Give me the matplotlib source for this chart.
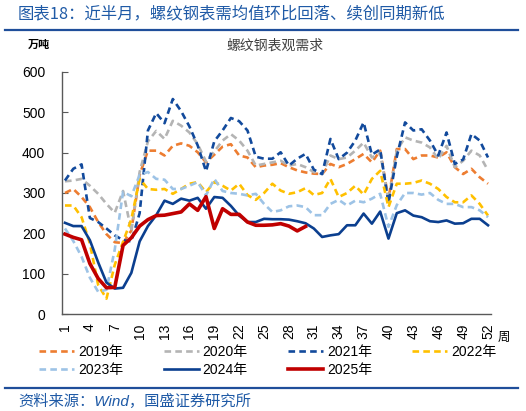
import matplotlib
matplotlib.use("Agg")
import matplotlib.pyplot as plt
from matplotlib.lines import Line2D

plt.rcParams['font.family'] = ['Liberation Sans', 'Noto Sans CJK SC']

# weekly apparent demand of rebar, 10k tonnes
weeks = list(range(1, 53))
y2019 = [300, 310, 290, 265, 228, 198, 178, 176, 207, 345, 405, 405, 393, 417, 423, 417, 401, 376, 395, 415,
         421, 393, 388, 364, 368, 370, 374, 364, 356, 351, 348, 347, 372, 364, 372, 384, 397, 376, 405, 285,
         409, 409, 384, 393, 393, 388, 401, 364, 347, 360, 339, 323]
y2020 = [329, 331, 335, 318, 298, 273, 251, 305, 205, 352, 428, 454, 434, 479, 467, 450, 421, 378, 403, 430,
         446, 430, 405, 368, 372, 376, 380, 368, 372, 364, 352, 347, 393, 384, 388, 405, 425, 388, 400, 280,
         405, 438, 430, 425, 413, 384, 417, 364, 380, 405, 393, 356]
y2021 = [331, 360, 371, 238, 228, 212, 195, 183, 180, 250, 455, 498, 473, 533, 503, 465, 418, 354, 428, 455,
         486, 478, 455, 390, 385, 385, 401, 368, 385, 397, 358, 347, 434, 384, 400, 430, 475, 395, 408, 275,
         390, 475, 455, 458, 430, 393, 450, 372, 383, 446, 430, 388]
y2022 = [269, 269, 240, 175, 72, 38, 122, 179, 235, 335, 310, 308, 310, 298, 310, 323, 327, 302, 327, 318,
         306, 323, 295, 283, 300, 323, 306, 298, 302, 312, 295, 300, 335, 290, 300, 318, 296, 335, 355, 265,
         323, 323, 325, 331, 323, 310, 290, 277, 277, 294, 273, 244]
y2023 = [212, 181, 142, 90, 55, 60, 160, 303, 292, 345, 352, 335, 333, 310, 310, 318, 327, 294, 335, 305,
         300, 298, 294, 298, 273, 253, 257, 267, 269, 265, 245, 245, 273, 283, 269, 281, 277, 286, 298, 216,
         270, 300, 300, 296, 300, 283, 273, 273, 265, 265, 257, 240]
y2024 = [226, 218, 218, 183, 128, 78, 63, 65, 102, 180, 218, 245, 281, 273, 286, 281, 288, 261, 290, 288,
         268, 244, 228, 228, 236, 235, 235, 234, 230, 225, 212, 191, 195, 198, 220, 220, 249, 224, 254, 187,
         250, 257, 244, 240, 230, 228, 232, 224, 225, 236, 236, 220]
y2025 = [198, 190, 184, 125, 88, 65, 66, 170, 189, 218, 234, 244, 245, 249, 253, 273, 257, 291, 212, 261,
         247, 247, 228, 220, 220, 221, 224, 218, 206, 217]
xticks = list(range(1, 53, 3))

W, H = 526, 411
fig = plt.figure(figsize=(W / 100, H / 100), dpi=100)
ax = fig.add_axes([62 / W, 1 - 314 / H, (491 - 62) / W, (314 - 72) / H])

dash = (2.5, 1.6)
series = [
    ('2019年', y2019, '#ED7D31', True, 1.9),
    ('2020年', y2020, '#B4B4B4', True, 1.9),
    ('2021年', y2021, '#124A9C', True, 1.9),
    ('2022年', y2022, '#FFC000', True, 1.9),
    ('2023年', y2023, '#9DC3E6', True, 1.9),
    ('2024年', y2024, '#0B3F8F', False, 1.9),
    ('2025年', y2025, '#C00000', False, 2.6),
]
handles = {}
for label, vals, color, dashed, lw in series:
    if dashed:
        ln, = ax.plot(weeks[:len(vals)], vals, color=color, lw=lw, dashes=dash, label=label)
    else:
        ln, = ax.plot(weeks[:len(vals)], vals, color=color, lw=lw, label=label)
    handles[label] = ln

ax.set_xlim(0.64, 52.36)
ax.set_ylim(0, 600)
ax.set_yticks(range(0, 601, 100))
ax.set_xticks(xticks)
ax.set_xticklabels([str(t) for t in xticks], rotation=90)
for s in ['top', 'right']:
    ax.spines[s].set_visible(False)
for s in ['left', 'bottom']:
    ax.spines[s].set_color('#595959')
    ax.spines[s].set_linewidth(1)
ax.tick_params(axis='y', direction='in', length=4, color='#595959', pad=12, labelsize=10)
ax.tick_params(axis='x', length=0, pad=7, labelsize=10)

fig.text(504 / W, 1 - 337 / H, '周', fontsize=9, family=['Noto Sans CJK SC'], ha='center', va='center')
fig.text(28 / W, 1 - 44 / H, '万吨', fontsize=8, fontweight='bold', family=['Noto Sans CJK SC'],
         ha='left', va='center')
fig.text(275 / W, 1 - 46 / H, '螺纹钢表观需求', fontsize=10, family=['Noto Sans CJK SC'],
         color='#404040', ha='center', va='center')

# header and footer
fig.text(18 / W, 1 - 14 / H, '图表18：近半月，螺纹钢表需均值环比回落、续创同期新低', fontsize=11.8,
         style='italic', color='#1F5AA6', family=['Noto Sans CJK SC'], ha='left', va='center')
fig.add_artist(Line2D([5 / W, 518 / W], [1 - 30 / H, 1 - 30 / H], color='#1F4E9A', lw=1.6))
fig.add_artist(Line2D([5 / W, 518 / W], [1 - 388 / H, 1 - 388 / H], color='#1F4E9A', lw=1.6))
fig.text(18 / W, 1 - 401 / H, '资料来源：Wind，国盛证券研究所', fontsize=11, style='italic',
         color='#1F5AA6', family=['Liberation Sans', 'Noto Sans CJK SC'], ha='left', va='center')

order = ['2019年', '2023年', '2020年', '2024年', '2021年', '2025年', '2022年']
fig.legend([handles[k] for k in order], order, loc='center', bbox_to_anchor=(268 / W, 1 - 361 / H),
           ncol=4, frameon=False, fontsize=10, handlelength=2.5, handletextpad=0.3,
           columnspacing=2.9, labelspacing=0.3, borderpad=0)

fig.savefig('out.png', dpi=100)
